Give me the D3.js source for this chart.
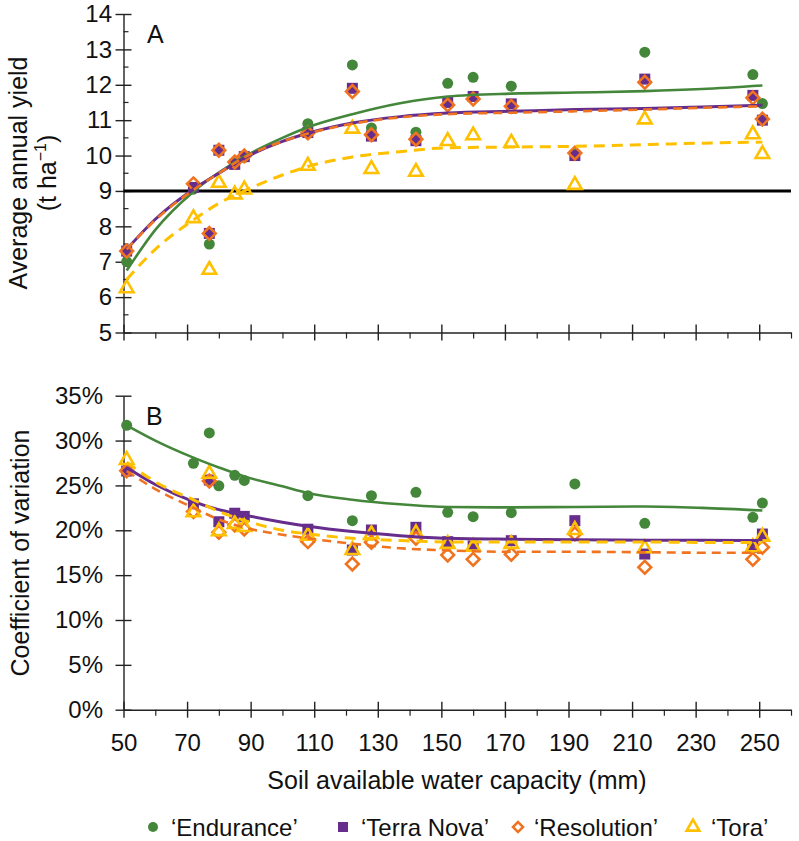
<!DOCTYPE html>
<meta charset="utf-8">
<script src="https://d3js.org/d3.v7.min.js"></script>
<style>
  body { margin: 0; background: #fff; }
  svg text { font-family: "Liberation Sans", Arial, sans-serif; fill: #111; }
</style>
<div id="chart"></div>
<script>
// soil available water capacity (mm) of each site
var awc = [51, 72, 77, 80, 85, 88, 108, 122, 128, 142, 152, 160, 172, 192, 214, 248, 251];

// A: average annual yield (t/ha)
var enduranceYield  = [7.0, 9.05, 7.5, 10.15, 9.8, 9.95, 10.9, 12.56, 10.78, 10.66, 12.04, 12.21, 11.96, 10.05, 12.92, 12.29, 11.47];
var terraNovaYield  = [7.3, 9.1, 7.8, 10.15, 9.75, 9.97, 10.65, 11.9, 10.55, 10.42, 11.5, 11.67, 11.46, 10.0, 12.16, 11.7, 11.0];
var resolutionYield = [7.3, 9.2, 7.8, 10.15, 9.82, 9.99, 10.64, 11.81, 10.59, 10.46, 11.43, 11.6, 11.39, 10.07, 12.07, 11.63, 11.03];
var toraYield       = [6.25, 8.23, 6.77, 9.23, 8.9, 9.04, 9.71, 10.76, 9.62, 9.54, 10.41, 10.57, 10.36, 9.17, 11.02, 10.6, 10.04];

// B: coefficient of variation (%)
var enduranceCV  = [31.7, 27.46, 30.85, 24.95, 26.12, 25.56, 23.85, 21.07, 23.85, 24.23, 22.0, 21.51, 21.96, 25.16, 20.78, 21.44, 23.04];
var terraNovaCV  = [26.6, 22.95, 25.6, 20.95, 21.9, 21.55, 20.12, 17.8, 20.03, 20.33, 18.73, 18.25, 18.84, 21.07, 17.35, 18.1, 19.58];
var resolutionCV = [26.64, 22.1, 25.5, 19.77, 20.58, 20.14, 18.73, 16.24, 18.66, 19.1, 17.24, 16.76, 17.32, 19.6, 15.87, 16.76, 18.1];
var toraCV       = [27.83, 22.0, 26.3, 19.9, 20.7, 20.35, 19.4, 17.8, 19.55, 19.66, 18.47, 18.17, 18.47, 20.03, 17.99, 18.1, 19.28];

// fitted trend curves
var trendX = [51, 60, 72, 80, 88, 100, 108, 122, 137, 152, 172, 192, 214, 232, 251];
var enduranceYieldFit  = [6.75, 7.9, 8.98, 9.52, 9.97, 10.5, 10.8, 11.17, 11.48, 11.67, 11.75, 11.78, 11.82, 11.88, 11.98];
var terraNovaYieldFit  = [7.35, 8.2, 9.05, 9.5, 9.93, 10.4, 10.63, 10.92, 11.1, 11.2, 11.25, 11.3, 11.33, 11.37, 11.42];
var resolutionYieldFit = [7.35, 8.18, 9.03, 9.5, 9.95, 10.4, 10.62, 10.9, 11.08, 11.17, 11.21, 11.25, 11.3, 11.35, 11.39];
var toraYieldFit       = [6.5, 7.35, 8.18, 8.65, 9.0, 9.45, 9.69, 9.96, 10.11, 10.22, 10.24, 10.26, 10.31, 10.35, 10.38];

var enduranceCVFit  = [31.7, 30.0, 28.1, 27.0, 26.0, 24.9, 24.15, 23.4, 22.9, 22.6, 22.55, 22.6, 22.65, 22.5, 22.2];
var terraNovaCVFit  = [27.0, 25.1, 23.2, 22.3, 21.7, 20.9, 20.45, 19.85, 19.4, 19.1, 19.0, 18.95, 18.9, 18.88, 18.85];
var resolutionCVFit = [26.6, 24.6, 22.5, 21.2, 20.3, 19.5, 19.1, 18.5, 18.0, 17.75, 17.6, 17.6, 17.55, 17.5, 17.5];
var toraCVFit       = [27.6, 25.4, 23.4, 22.1, 21.1, 20.0, 19.6, 19.1, 18.85, 18.7, 18.7, 18.7, 18.7, 18.65, 18.65];

var yieldTicks = [5, 6, 7, 8, 9, 10, 11, 12, 13, 14];
var cvTicks = [0, 5, 10, 15, 20, 25, 30, 35];
var xTicks = [50, 70, 90, 110, 130, 150, 170, 190, 210, 230, 250];
var threshold = 9;

var names = ["\u2018Endurance\u2019", "\u2018Terra Nova\u2019", "\u2018Resolution\u2019", "\u2018Tora\u2019"];
var colors = ["#44873a", "#662d8c", "#f07320", "#ffc000"];

var W = 799, H = 841;
var svg = d3.select("#chart").append("svg")
    .attr("width", W).attr("height", H);

var x = d3.scaleLinear().domain([50, 260]).range([123.5, 791]);
var yA = d3.scaleLinear().domain([5, 14]).range([332.5, 14]);
var yB = d3.scaleLinear().domain([0, 35]).range([709.7, 395.7]);

var axisColor = "#222";

function drawXAxis(yPos, labels) {
    var major = svg.append("g")
        .attr("transform", "translate(0," + yPos + ")")
        .call(d3.axisBottom(x).tickValues(xTicks).tickSizeOuter(0).tickSizeInner(8)
            .tickFormat(labels ? d3.format("d") : ""));
    major.select(".domain").attr("stroke", axisColor).attr("stroke-width", 1.4);
    major.selectAll(".tick line").attr("y1", -8).attr("stroke", axisColor).attr("stroke-width", 1.4);
    major.selectAll(".tick text").attr("font-size", 24).attr("y", 24).attr("dy", "0.71em")
        .style("font-family", "Liberation Sans, Arial, sans-serif").attr("fill", "#111");

    var minor = svg.append("g")
        .attr("transform", "translate(0," + yPos + ")")
        .call(d3.axisBottom(x).tickValues(d3.range(60, 261, 20)).tickSizeOuter(0).tickSizeInner(6).tickFormat(""));
    minor.select(".domain").remove();
    minor.selectAll(".tick line").attr("stroke", axisColor).attr("stroke-width", 1.2);
}

function drawYAxis(scale, ticks, fmt, labelRight, minorTicks) {
    var g = svg.append("g")
        .attr("transform", "translate(" + x(50) + ",0)")
        .call(d3.axisLeft(scale).tickValues(ticks).tickSizeOuter(0).tickSizeInner(8).tickFormat(fmt));
    g.select(".domain").attr("stroke", axisColor).attr("stroke-width", 1.4);
    g.selectAll(".tick line").attr("x2", 8).attr("x1", -8).attr("stroke", axisColor).attr("stroke-width", 1.4);
    g.selectAll(".tick text").attr("font-size", 24).attr("x", labelRight - x(50))
        .style("font-family", "Liberation Sans, Arial, sans-serif").attr("fill", "#111");
    if (minorTicks) {
        svg.append("g").selectAll("line")
            .data(minorTicks).enter().append("line")
            .attr("x1", x(50)).attr("x2", x(50) + 5)
            .attr("y1", function (d) { return scale(d); })
            .attr("y2", function (d) { return scale(d); })
            .attr("stroke", axisColor).attr("stroke-width", 1.2);
    }
}

// ---- panel A ----
drawXAxis(yA(5), false);
drawYAxis(yA, yieldTicks, d3.format("d"), 112, d3.range(5.5, 14, 1));

svg.append("line")
    .attr("x1", x(50)).attr("x2", x(260))
    .attr("y1", yA(threshold)).attr("y2", yA(threshold))
    .attr("stroke", "#000").attr("stroke-width", 3);

// ---- panel B ----
drawXAxis(yB(0), true);
drawYAxis(yB, cvTicks, function (d) { return d + "%"; }, 103, null);

// axis titles
var tA = svg.append("text")
    .attr("transform", "translate(27,173) rotate(-90)")
    .attr("text-anchor", "middle").attr("font-size", 25);
tA.append("tspan").attr("x", 0).attr("dy", 0).text("Average annual yield");
var tA2 = tA.append("tspan").attr("x", 0).attr("dy", 29).text("(t ha");
tA.append("tspan").attr("font-size", 16).attr("dy", -10).text("\u22121");
tA.append("tspan").attr("dy", 10).text(")");

svg.append("text")
    .attr("transform", "translate(29,553) rotate(-90)")
    .attr("text-anchor", "middle").attr("font-size", 25)
    .text("Coefficient of variation");

svg.append("text")
    .attr("x", 457).attr("y", 789)
    .attr("text-anchor", "middle").attr("font-size", 25)
    .text("Soil available water capacity (mm)");

svg.append("text").attr("x", 147).attr("y", 43).attr("font-size", 25).text("A");
svg.append("text").attr("x", 146).attr("y", 425).attr("font-size", 25).text("B");

// ---- series ----
function trend(scale, vals, color, width, dash) {
    var line = d3.line()
        .x(function (d, i) { return x(trendX[i]); })
        .y(function (d) { return scale(d); })
        .curve(d3.curveMonotoneX);
    svg.append("path").datum(vals)
        .attr("d", line)
        .attr("fill", "none")
        .attr("stroke", color)
        .attr("stroke-width", width)
        .attr("stroke-dasharray", dash);
}

var circleSym = d3.symbol().type(d3.symbolCircle).size(Math.PI * 5.5 * 5.5);
var squareSym = d3.symbol().type(d3.symbolSquare).size(11 * 11);
var diamondSym = d3.symbol().type(d3.symbolSquare).size(9 * 9);
var triangleSym = d3.symbol().type(d3.symbolTriangle).size(80);

function markers(scale, vals, kind) {
    var g = svg.append("g");
    var sel = g.selectAll("path").data(vals).enter().append("path");
    sel.attr("transform", function (d, i) {
        var t = "translate(" + x(awc[i]) + "," + scale(d) + ")";
        if (kind === 2) t += " rotate(45)";
        return t;
    });
    if (kind === 0) sel.attr("d", circleSym).attr("fill", colors[0]);
    if (kind === 1) sel.attr("d", squareSym).attr("fill", colors[1]);
    if (kind === 2) sel.attr("d", diamondSym).attr("fill", "none").attr("stroke", colors[2]).attr("stroke-width", 2.6);
    if (kind === 3) sel.attr("d", triangleSym).attr("fill", "none").attr("stroke", colors[3]).attr("stroke-width", 2.6);
}

function panel(scale, data, fits) {
    markers(scale, data[0], 0);
    markers(scale, data[1], 1);
    markers(scale, data[2], 2);
    markers(scale, data[3], 3);
    trend(scale, fits[0], colors[0], 2.6, null);
    trend(scale, fits[1], colors[1], 3, null);
    trend(scale, fits[2], colors[2], 2.6, "9,6");
    trend(scale, fits[3], colors[3], 3, "11,7");
}

panel(yA, [enduranceYield, terraNovaYield, resolutionYield, toraYield],
    [enduranceYieldFit, terraNovaYieldFit, resolutionYieldFit, toraYieldFit]);
panel(yB, [enduranceCV, terraNovaCV, resolutionCV, toraCV],
    [enduranceCVFit, terraNovaCVFit, resolutionCVFit, toraCVFit]);

// ---- legend ----
var legendY = 827;
var legendItems = [
    { mx: 153, tx: 171 },
    { mx: 343, tx: 361 },
    { mx: 518, tx: 534 },
    { mx: 693, tx: 711 }
];
var leg = svg.append("g");
legendItems.forEach(function (d, i) {
    var p = leg.append("path").attr("transform", "translate(" + d.mx + "," + legendY + ")" + (i === 2 ? " rotate(45)" : ""));
    if (i === 0) p.attr("d", d3.symbol().type(d3.symbolCircle).size(Math.PI * 25)).attr("fill", colors[0]);
    if (i === 1) p.attr("d", d3.symbol().type(d3.symbolSquare).size(100)).attr("fill", colors[1]);
    if (i === 2) p.attr("d", d3.symbol().type(d3.symbolSquare).size(50)).attr("fill", "none").attr("stroke", colors[2]).attr("stroke-width", 2.6);
    if (i === 3) p.attr("d", d3.symbol().type(d3.symbolTriangle).size(70)).attr("fill", "none").attr("stroke", colors[3]).attr("stroke-width", 2.6);
    leg.append("text").attr("x", d.tx).attr("y", legendY + 9).attr("font-size", 24).text(names[i]);
});
</script>
